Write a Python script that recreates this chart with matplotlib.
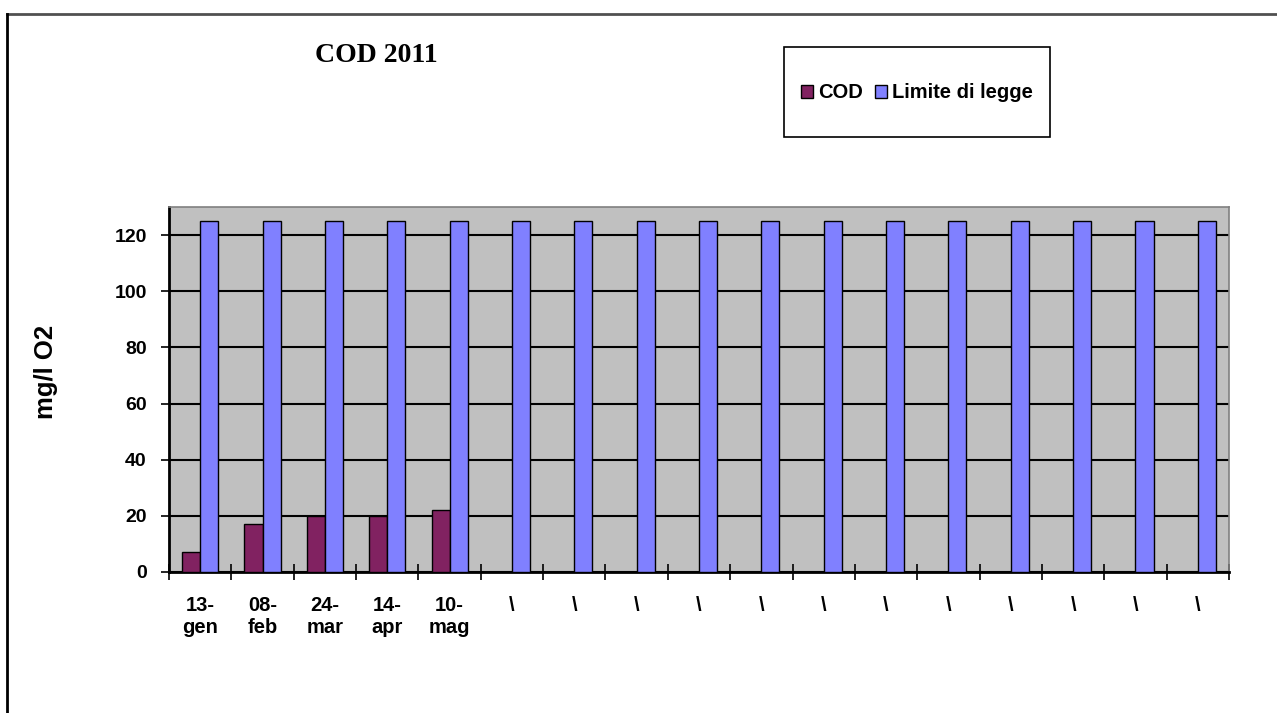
import numpy as np
import matplotlib
matplotlib.use("Agg")
import matplotlib.pyplot as plt
from matplotlib.lines import Line2D
from matplotlib.patches import Rectangle

categories = ['13-\ngen', '08-\nfeb', '24-\nmar', '14-\napr', '10-\nmag'] + ['\\'] * 12
cod_values = [7, 17, 20, 20, 22] + [np.nan] * 12
limit_values = [125] * 17
series_names = ['COD', 'Limite di legge']
yticks = [0, 20, 40, 60, 80, 100, 120]

W, H = 1277, 713
fig = plt.figure(figsize=(W / 100, H / 100), dpi=100)
fig.patch.set_facecolor('white')

ax = fig.add_axes([169 / W, 1 - 572 / H, (1229 - 169) / W, (572 - 207) / H])
ax.set_facecolor('#C0C0C0')

x = np.arange(len(categories))
bw = 0.29
ax.set_axisbelow(True)
ax.yaxis.grid(True, color='black', linewidth=1.5)
ax.bar(x - bw / 2, cod_values, width=bw, color='#812261', edgecolor='black', linewidth=1.0, label=series_names[0], zorder=3)
ax.bar(x + bw / 2, limit_values, width=bw, color='#8080FF', edgecolor='black', linewidth=1.0, label=series_names[1], zorder=3)

ax.set_xlim(-0.5, len(categories) - 0.5)
ax.set_ylim(0, 130)
ax.set_yticks(yticks)
ax.set_yticklabels([str(v) for v in yticks], fontfamily='Liberation Sans', fontweight='bold', fontsize=14)
ax.tick_params(axis='y', direction='out', length=6, width=1.2, pad=10)

ax.set_xticks(x)
ax.set_xticklabels(categories, fontfamily='Liberation Sans', fontweight='bold', fontsize=14.5, linespacing=1.25, va='top')
ax.tick_params(axis='x', which='major', length=0, pad=17)
ax.set_xticks(np.arange(-0.5, len(categories) + 0.5, 1), minor=True)
ax.tick_params(axis='x', which='minor', direction='inout', length=12, width=1.2)

for s in ['left', 'bottom']:
    ax.spines[s].set_color('black')
    ax.spines[s].set_linewidth(2)
for s in ['top', 'right']:
    ax.spines[s].set_color('#808080')
    ax.spines[s].set_linewidth(1.2)

ax.set_ylabel('mg/l O2', fontfamily='Liberation Sans', fontweight='bold', fontsize=18.5, labelpad=0, va='center')
ax.yaxis.set_label_coords((46 - 169) / (1229 - 169), 1 - (372 - 207) / (572 - 207))

fig.text(376 / W, 1 - 55 / H, 'COD 2011', fontfamily='Liberation Serif', fontweight='bold', fontsize=20,
         ha='center', va='center')

# legend box
fig.add_artist(Rectangle((784 / W, 1 - 137 / H), (1050 - 784) / W, (137 - 47) / H,
                         transform=fig.transFigure, facecolor='white', edgecolor='black', linewidth=1.2, zorder=1))
leg = fig.legend(loc='center', bbox_to_anchor=(917 / W, 1 - 93 / H), ncol=2,
                 prop={'family': 'Liberation Sans', 'weight': 'bold', 'size': 14.5},
                 frameon=False, handlelength=0.6, handleheight=0.6,
                 handletextpad=0.25, columnspacing=0.6, borderpad=0, borderaxespad=0)
leg.set_zorder(2)

# outer chart border
fig.add_artist(Line2D([7 / W, 1.0], [1 - 14 / H, 1 - 14 / H], transform=fig.transFigure, color='#505050', linewidth=2))
fig.add_artist(Line2D([7 / W, 7 / W], [1 - 14 / H, 0], transform=fig.transFigure, color='black', linewidth=2))

fig.savefig('out.png', dpi=100)
